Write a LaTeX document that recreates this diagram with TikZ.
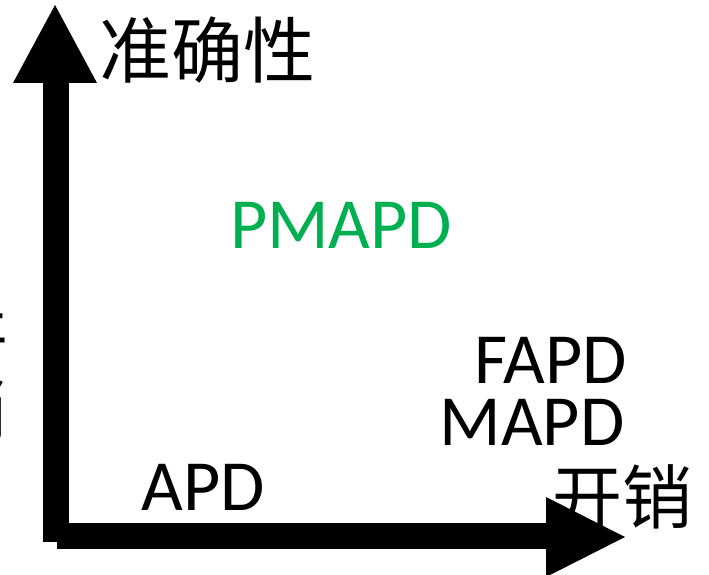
\documentclass[tikz,border=0pt]{standalone}
\usepackage{fontspec}
\setmainfont{Carlito}
\newfontfamily\cjk{Noto Sans CJK SC}
\definecolor{officegreen}{RGB}{0,176,80}
\tikzset{
  axisfill/.style={fill=black, draw=none},
  lbl/.style={inner sep=0pt, font=\fontsize{72}{80}\selectfont, anchor=base},
  cjklbl/.style={inner sep=0pt, font=\cjk\fontsize{70}{78}\selectfont, anchor=center}
}
\begin{document}
\begin{tikzpicture}[x=1pt,y=-1pt]
\clip (0,0) rectangle (709,575);
\fill[white] (0,0) rectangle (709,575);
% axes
\coordinate (vtl) at (43,83);
\coordinate (vbr) at (69,542);
\coordinate (htl) at (57,523);
\coordinate (hbr) at (546,549);
\fill[axisfill] (vtl) rectangle (vbr);
\fill[axisfill] (htl) rectangle (hbr);
\coordinate (vh1) at (13,83);
\coordinate (vh2) at (97,83);
\coordinate (vtip) at (55,5);
\fill[axisfill] (vh1) -- (vh2) -- (vtip) -- cycle;
\coordinate (hh1) at (546,497);
\coordinate (hh2) at (546,577);
\coordinate (htip) at (625,537);
\fill[axisfill] (hh1) -- (hh2) -- (htip) -- cycle;
% axis labels
\node[cjklbl, font=\cjk\fontsize{72}{80}\selectfont] (acc) at (207,50) {准确性};
\node[cjklbl] (cost) at (622,497) {开销};
\node[cjklbl, font=\cjk\fontsize{68}{76}\selectfont] (side1) at (-25,343) {开};
\node[cjklbl, font=\cjk\fontsize{68}{76}\selectfont] (side2) at (-27,410) {销};
% method labels
\node[lbl, text=officegreen] (pmapd) at (341,248) {PMAPD};
\node[lbl] (fapd) at (551,383) {FAPD};
\node[lbl] (mapd) at (532,445) {MAPD};
\node[lbl] (apd) at (203,510) {APD};
\end{tikzpicture}
\end{document}
